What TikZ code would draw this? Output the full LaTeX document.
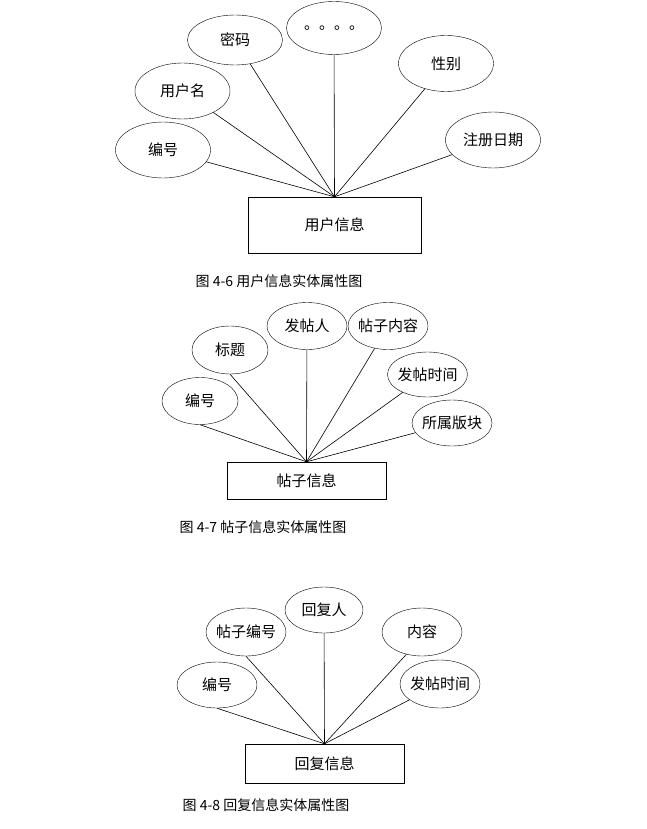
\documentclass[tikz,border=0pt]{standalone}
\usepackage{fontspec}
\setmainfont{Noto Sans CJK SC}
\usetikzlibrary{shapes.geometric}

\begin{document}
\begin{tikzpicture}[
            x=1pt, y=-1pt,
            attr/.style={draw, ellipse, inner sep=-2pt, minimum width=95pt, minimum height=56pt, font=\fontsize{15}{18}\selectfont},
            sattr/.style={attr, minimum width=80pt, minimum height=47pt},
            entity/.style={draw, rectangle, minimum width=173pt, minimum height=56pt, font=\fontsize{15}{18}\selectfont},
            figcap/.style={font=\fontsize{14}{17}\selectfont},
            conn/.style={semithick}
        ]
            \useasboundingbox (0,0) rectangle (646,829);

            % Figure 4-6: user
            \node[entity] (yhxx) at (334.5,225) {用户信息};
            \node[attr] (bh1) at (163,150) {编号};
            \node[attr] (yhm) at (182.5,91) {用户名};
            \node[attr, minimum height=50pt] (mm) at (235,40) {密码};
            \node[attr, minimum height=53pt] (more) at (334,28) {};
            \node[font=\fontsize{15}{18}\selectfont] (dots) at (more) {。。。。};
            \node[attr] (xb) at (446,63.5) {性别};
            \node[attr] (zcrq) at (493,140) {注册日期};
            \node[figcap] (cap1) at (279,281) {图 4-6 用户信息实体属性图};

            \foreach \a in {bh1, yhm, mm, more, xb, zcrq}
                \draw[conn] (yhxx.north) -- (\a);

            % Figure 4-7: post
            \node[entity, minimum width=159pt, minimum height=37pt] (tzxx) at (306.5,480.5) {帖子信息};
            \node[sattr, minimum width=76pt] (bh2) at (200,401) {编号};
            \node[sattr, minimum width=76pt, minimum height=48pt] (bt) at (230,350) {标题};
            \node[sattr] (ftr) at (307,326) {发帖人};
            \node[sattr] (tznr) at (388,326) {帖子内容};
            \node[sattr, minimum height=45pt] (ftsj1) at (427.5,374.5) {发帖时间};
            \node[sattr, minimum height=46pt] (ssbk) at (452,423) {所属版块};
            \node[figcap] (cap2) at (263,527) {图 4-7 帖子信息实体属性图};

            \draw[conn] (tzxx.north) -- (bh2.south);
            \draw[conn] (tzxx.north) -- (bt.south);
            \foreach \a in {ftr, tznr, ftsj1, ssbk}
                \draw[conn] (tzxx.north) -- (\a);

            % Figure 4-8: reply
            \node[entity, minimum width=159pt, minimum height=39pt] (hfxx) at (324.5,763.5) {回复信息};
            \node[sattr, minimum height=46pt] (bh3) at (217,685) {编号};
            \node[sattr, minimum height=48pt] (tzbh) at (246,632) {帖子编号};
            \node[sattr, minimum width=78pt, minimum height=46pt] (hfr) at (324,610) {回复人};
            \node[sattr, minimum height=48pt] (nr) at (422,632) {内容};
            \node[sattr, minimum height=48pt] (ftsj2) at (440,684) {发帖时间};
            \node[figcap] (cap3) at (266,805) {图 4-8 回复信息实体属性图};

            \draw[conn] (hfxx.north) -- (bh3.south);
            \draw[conn] (hfxx.north) -- (tzbh.south);
            \draw[conn] (hfxx.north) -- (hfr);
            \draw[conn] (hfxx.north) -- (nr.235);
            \draw[conn] (hfxx.north) -- (ftsj2);
        \end{tikzpicture}
\end{document}
